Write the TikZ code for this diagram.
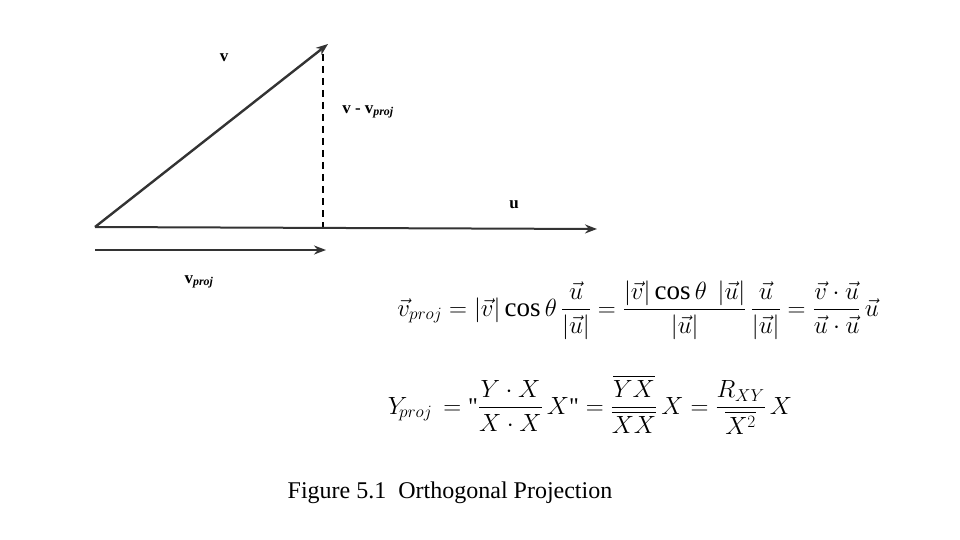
\documentclass[tikz,border=0pt]{standalone}
\usepackage{amsmath}
\usepackage{fontspec}
\setmainfont{Liberation Serif}
\usetikzlibrary{arrows.meta}
\begin{document}
\begin{tikzpicture}[x=1pt,y=-1pt,
  vec/.style={line width=2.4pt,draw=black!80,-{Stealth[length=12pt,width=9pt]}},
  lbl/.style={font=\fontsize{17}{19}\selectfont\bfseries}]
\useasboundingbox (0,0) rectangle (960,540);
\coordinate (o) at (95,227);
\coordinate (vt) at (328,44);
\coordinate (ft) at (323,227);
\coordinate (ut) at (597,229);
\coordinate (p0) at (95,250);
\coordinate (p1) at (326,250);
\draw[vec] (o) -- (vt);
\draw[dash pattern=on 7pt off 5pt,line width=1.4pt] (323,54) -- (ft);
\draw[vec,line width=2pt] (o) -- (ut);
\draw[vec] (p0) -- (p1);
\node[lbl] (lv) at (224,58) {v};
\node[lbl] (ld) at (368,112) {v - v\textsubscript{\itshape proj}};
\node[lbl] (lu) at (514,205) {u};
\node[lbl] (lp) at (199,282) {v\textsubscript{\itshape proj}};
\node (e1) at (638,310) {\fontsize{27}{30}\selectfont$\vec v_{proj}=|\vec v|\cos\theta\,\dfrac{\vec u}{|\vec u|}=\dfrac{|\vec v|\cos\theta\ \,|\vec u|}{|\vec u|}\,\dfrac{\vec u}{|\vec u|}=\dfrac{\vec v\cdot\vec u}{\vec u\cdot\vec u}\,\vec u$};
\node (e2) at (590,405) {\fontsize{24}{27}\selectfont$Y_{\!proj}\,=\text{\textquotedbl}\dfrac{Y\cdot X}{X\cdot X}\,X\text{\textquotedbl}=\dfrac{\overline{YX}}{\overline{XX}}\,X=\dfrac{R_{XY}}{\overline{X^2}}\,X$};
\node (cap) at (450,493) {\fontsize{24}{27}\selectfont Figure 5.1\ \ Orthogonal Projection};
\end{tikzpicture}
\end{document}
